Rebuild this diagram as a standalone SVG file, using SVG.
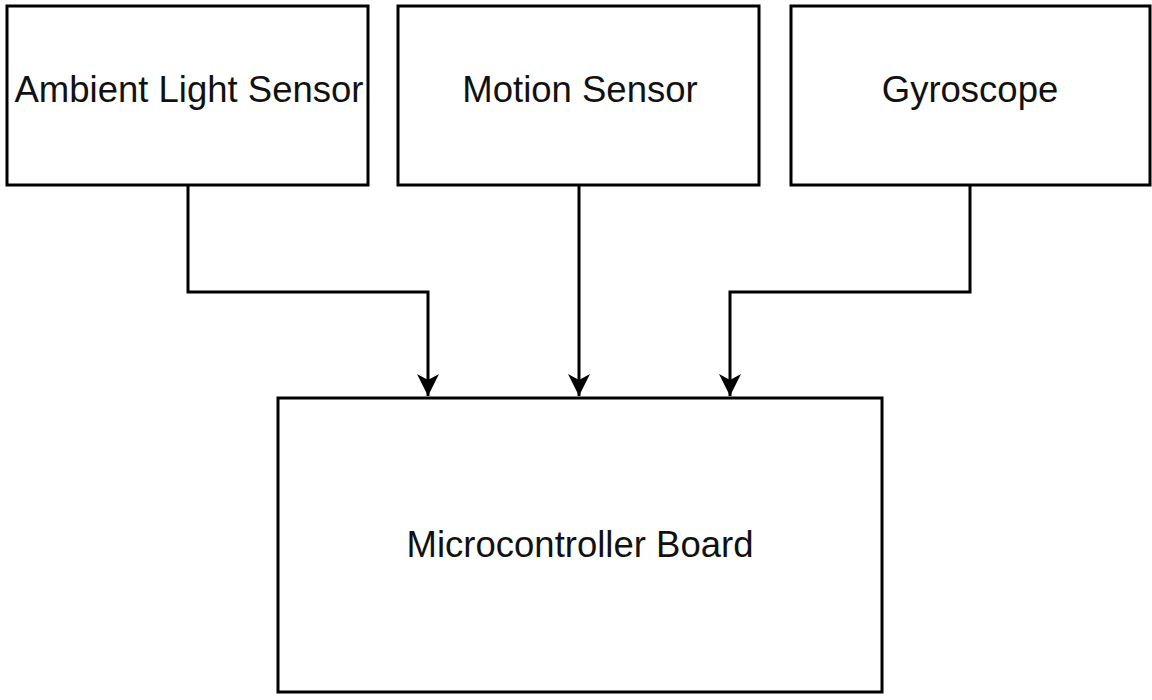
<svg xmlns="http://www.w3.org/2000/svg" width="1152" height="700" viewBox="0 0 1152 700">
  <style>
    .box { fill: #ffffff; stroke: #000000; stroke-width: 3; }
    .label { font-family: "Liberation Sans", Arial, sans-serif; font-size: 36.5px; fill: #111111; text-anchor: middle; }
    .wire { fill: none; stroke: #000000; stroke-width: 3; }
  </style>
  <defs>
    <!-- notched arrowhead, drawn pointing along +x so orient="auto" follows the wire -->
    <marker id="arrow" viewBox="0 0 24 24" refX="23" refY="12" markerWidth="24" markerHeight="24" markerUnits="userSpaceOnUse" orient="auto">
      <path d="M1 1 L7 12 L1 23 L23 12 Z" fill="#000000"/>
    </marker>
  </defs>
  <rect width="1152" height="700" fill="#ffffff"/>

  <g id="ambient-light-sensor">
    <rect class="box" x="7" y="6" width="361" height="179"/>
    <text class="label" x="189" y="102">Ambient Light Sensor</text>
  </g>
  <g id="motion-sensor">
    <rect class="box" x="398" y="6" width="361" height="179"/>
    <text class="label" x="580" y="102">Motion Sensor</text>
  </g>
  <g id="gyroscope">
    <rect class="box" x="791" y="6" width="359" height="179"/>
    <text class="label" x="970" y="102">Gyroscope</text>
  </g>
  <g id="microcontroller-board">
    <rect class="box" x="278" y="398" width="604" height="294"/>
    <text class="label" x="580" y="557">Microcontroller Board</text>
  </g>

  <g id="connectors">
    <path class="wire" d="M188 185 V292 H428 V396" marker-end="url(#arrow)"/>
    <path class="wire" d="M579 185 V396" marker-end="url(#arrow)"/>
    <path class="wire" d="M970 185 V292 H730 V396" marker-end="url(#arrow)"/>
  </g>
</svg>
